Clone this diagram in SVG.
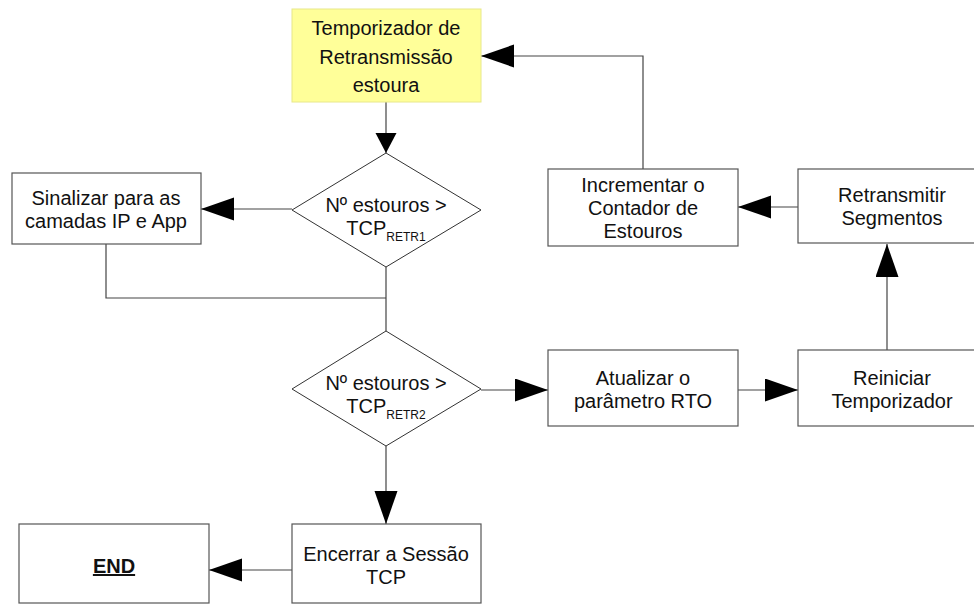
<svg xmlns="http://www.w3.org/2000/svg" width="974" height="604" viewBox="0 0 974 604">
<style>
.box{fill:#ffffff;stroke:#555555;stroke-width:1.2}
.dia{fill:#ffffff;stroke:#333333;stroke-width:1}
.lbl{font-family:"Liberation Sans",Arial,sans-serif;font-size:20px;fill:#111111;text-anchor:middle}
.sub{font-size:12px}
.con{fill:none;stroke:#444444;stroke-width:1.2}
</style>
<defs>
<marker id="ah" markerUnits="userSpaceOnUse" markerWidth="34" markerHeight="24" refX="33" refY="11.5" orient="auto" viewBox="0 0 34 24">
<path d="M0,0 L33,11.5 L0,23 z" fill="#000000"/>
</marker>
<marker id="ahs" markerUnits="userSpaceOnUse" markerWidth="22" markerHeight="22" refX="20" refY="10.5" orient="auto" viewBox="0 0 22 22">
<path d="M0,0 L20,10.5 L0,21 z" fill="#000000"/>
</marker>
</defs>
<rect width="974" height="604" fill="#ffffff"/>
<g id="connectors">
<path class="con" d="M386,102 L386,153" marker-end="url(#ahs)"/>
<path class="con" d="M292,209 L201,209" marker-end="url(#ah)"/>
<path class="con" d="M106,244 L106,298 L386,298"/>
<path class="con" d="M386,267 L386,331"/>
<path class="con" d="M481,390 L548,390" marker-end="url(#ah)"/>
<path class="con" d="M738,390 L798,390" marker-end="url(#ah)"/>
<path class="con" d="M887,350 L887,244" marker-end="url(#ah)"/>
<path class="con" d="M798,207 L738,207" marker-end="url(#ah)"/>
<path class="con" d="M643,169 L643,56 L481,56" marker-end="url(#ah)"/>
<path class="con" d="M386,446 L386,524" marker-end="url(#ah)"/>
<path class="con" d="M292,570 L209,570" marker-end="url(#ah)"/>
</g>
<g id="timer">
<rect x="292" y="9" width="189" height="93" fill="#ffff99" stroke="#e8e88a" stroke-width="1"/>
<text class="lbl" x="386" y="35">Temporizador de</text>
<text class="lbl" x="386" y="64">Retransmissão</text>
<text class="lbl" x="386" y="92">estoura</text>
</g>
<g id="decision1">
<polygon class="dia" points="386,153 481,210 386,267 292,210"/>
<text class="lbl" x="386" y="212">Nº estouros &gt;</text>
<text class="lbl" x="386" y="235">TCP<tspan class="sub" dy="6">RETR1</tspan></text>
</g>
<g id="signal">
<rect class="box" x="12" y="173" width="189" height="71"/>
<text class="lbl" x="106" y="205">Sinalizar para as</text>
<text class="lbl" x="106" y="228">camadas IP e App</text>
</g>
<g id="decision2">
<polygon class="dia" points="386,331 481,389 386,446 292,389"/>
<text class="lbl" x="386" y="390">Nº estouros &gt;</text>
<text class="lbl" x="386" y="413">TCP<tspan class="sub" dy="6">RETR2</tspan></text>
</g>
<g id="update">
<rect class="box" x="548" y="350" width="190" height="76"/>
<text class="lbl" x="643" y="385">Atualizar o</text>
<text class="lbl" x="643" y="408">parâmetro RTO</text>
</g>
<g id="restart">
<rect class="box" x="798" y="350" width="190" height="76"/>
<text class="lbl" x="892" y="385">Reiniciar</text>
<text class="lbl" x="892" y="408">Temporizador</text>
</g>
<g id="retransmit">
<rect class="box" x="798" y="169" width="190" height="74"/>
<text class="lbl" x="892" y="202">Retransmitir</text>
<text class="lbl" x="892" y="225">Segmentos</text>
</g>
<g id="increment">
<rect class="box" x="548" y="169" width="190" height="77"/>
<text class="lbl" x="643" y="192">Incrementar o</text>
<text class="lbl" x="643" y="215">Contador de</text>
<text class="lbl" x="643" y="238">Estouros</text>
</g>
<g id="close">
<rect class="box" x="292" y="524" width="189" height="79"/>
<text class="lbl" x="386" y="561">Encerrar a Sessão</text>
<text class="lbl" x="386" y="584">TCP</text>
</g>
<g id="end">
<rect class="box" x="19" y="524" width="190" height="79"/>
<text class="lbl" x="114" y="573" font-weight="bold" text-decoration="underline">END</text>
</g>
</svg>
